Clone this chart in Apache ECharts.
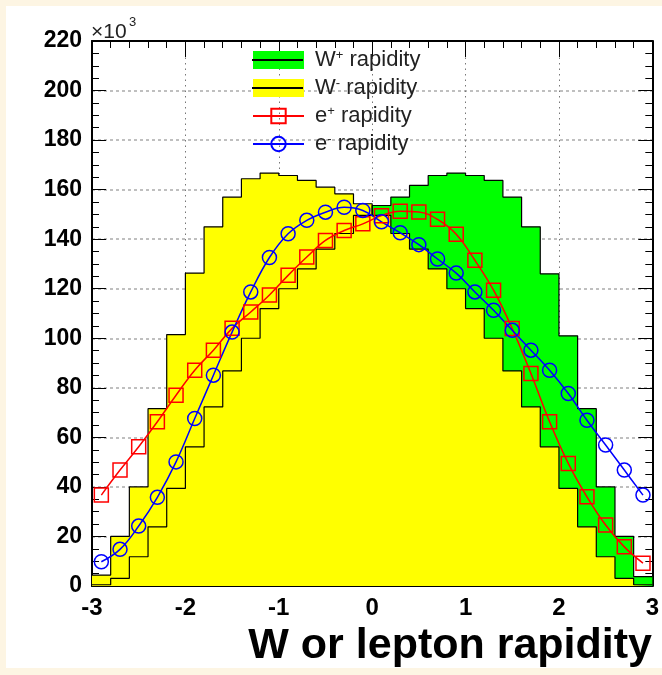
<!DOCTYPE html>
<html><head><meta charset="utf-8">
<script src="https://cdn.jsdelivr.net/npm/echarts@6/dist/echarts.min.js"></script>
<style>
html,body{margin:0;padding:0;background:#fdf5e3;}
#pad{position:absolute;left:6px;top:6px;width:656px;height:662px;background:#ffffff;}
#chart{position:absolute;left:0;top:0;width:662px;height:675px;}
</style></head><body><div id="pad"></div><div id="chart"></div>
<script>
// bin edges (31) and centres (30) of the rapidity histograms
const binEdges = [-3,-2.8,-2.6,-2.4,-2.2,-2,-1.8,-1.6,-1.4,-1.2,-1,-0.8,-0.6,-0.4,-0.2,0,0.2,0.4,0.6,0.8,1,1.2,1.4,1.6,1.8,2,2.2,2.4,2.6,2.8,3];
const binCenters = [-2.9,-2.7,-2.5,-2.3,-2.1,-1.9,-1.7,-1.5,-1.3,-1.1,-0.9,-0.7,-0.5,-0.3,-0.1,0.1,0.3,0.5,0.7,0.9,1.1,1.3,1.5,1.7,1.9,2.1,2.3,2.5,2.7,2.9];
// values in units of 10^3
const wPlus  = [0.5,3.1,11.8,23.9,39.4,56.2,72.3,86.8,100,112,120,128,136,142.3,149.6,153.6,157,161.7,165.7,166.7,165.7,163.7,157,145,126,101,71.6,40,20,3.8];
const wMinus = [4.4,20,40,71.6,101.5,126.3,145,157,164.4,166.7,165.7,163.7,161,158.3,154.3,149.6,142.3,136,128,120,112,100,86.8,72.3,56.2,39.4,23.9,11.8,3.1,0.5];
const ePlus  = [36.7,46.8,56.2,66.3,77,87.1,95.2,104,110.6,117.5,125.4,132.8,139.5,143.5,146.2,149.5,151.3,151,148,142,131.5,119.4,103.9,85.8,66.3,49.5,36,24.6,15.8,9.2];
const eMinus = [9.8,14.8,24.2,35.8,50.1,67.6,85.1,102.5,118.7,132.6,142.2,147.6,150.9,152.9,151.6,147,142.6,137.8,132,126.3,118.7,111.3,103.2,95.2,87.1,77.7,66.9,56.9,46.8,36.7];
const seriesNames = ['W+ rapidity','W- rapidity','e+ rapidity','e- rapidity'];

function stepData(vals){
  const d = vals.map((v,i)=>[binEdges[i], v]);
  d.push([binEdges[vals.length], vals[vals.length-1]]);
  return d;
}
function pointData(vals){ return vals.map((v,i)=>[binCenters[i], v]); }

const FONT = 'Liberation Sans, Arial, Helvetica, sans-serif';
const chart = echarts.init(document.getElementById('chart'), null, {renderer:'canvas'});

const baseAxisLine = {show:true, onZero:false, lineStyle:{color:'#000', width:2}};

const option = {
  animation:false,
  backgroundColor:'transparent',
  textStyle:{fontFamily:FONT},
  grid:{left:92, right:8, top:41, bottom:89, containLabel:false},
  title:{
    text:'W or lepton rapidity', right:10, top:625, padding:0,
    textStyle:{fontFamily:FONT, fontSize:43, fontWeight:'bold', color:'#000'}
  },
  legend:{
    orient:'vertical', left:252, top:49, padding:0, itemWidth:51, itemHeight:18, itemGap:6,
    selectedMode:false,
    data:[
      {name:seriesNames[0], icon:'rect', itemStyle:{color:'#00ff00', borderWidth:0}},
      {name:seriesNames[1], icon:'rect', itemStyle:{color:'#ffff00', borderWidth:0}},
      {name:seriesNames[2]},
      {name:seriesNames[3]}
    ],
    formatter:function(name){
      const p = name.split(' ');
      return '{g| }{b|' + p[0].charAt(0) + '}{s|' + p[0].charAt(1) + '}{b| ' + p[1] + '}';
    },
    textStyle:{
      fontFamily:FONT, fontSize:22, color:'#222', lineHeight:22,
      rich:{
        g:{fontSize:10, width:6, lineHeight:22},
        b:{fontFamily:FONT, fontSize:22, color:'#222', lineHeight:22},
        s:{fontFamily:FONT, fontSize:13, color:'#222', lineHeight:22, verticalAlign:'top'}
      }
    }
  },
  xAxis:[
    {type:'value', min:-3, max:3, interval:1, position:'bottom',
     axisLine:baseAxisLine,
     axisTick:{show:true, inside:true, length:16, lineStyle:{color:'#000', width:1}},
     minorTick:{show:true, splitNumber:5, length:7, lineStyle:{color:'#000', width:1}},
     splitLine:{show:true, lineStyle:{color:'#777', width:1, type:[1.5,4]}},
     axisLabel:{show:true, margin:10, fontFamily:FONT, fontSize:24, fontWeight:'bold', color:'#000'}
    },
    {type:'value', min:-3, max:3, interval:1, position:'top',
     axisLine:baseAxisLine,
     axisTick:{show:true, inside:true, length:16, lineStyle:{color:'#000', width:1}},
     minorTick:{show:true, splitNumber:5, length:7, lineStyle:{color:'#000', width:1}},
     splitLine:{show:false}, axisLabel:{show:false}
    }
  ],
  yAxis:[
    {type:'value', min:0, max:220, interval:20, position:'left',
     axisLine:baseAxisLine,
     axisTick:{show:true, inside:true, length:14, lineStyle:{color:'#000', width:1}},
     minorTick:{show:true, splitNumber:4, length:7, lineStyle:{color:'#000', width:1}},
     splitLine:{show:true, lineStyle:{color:'#aaa', width:1.5, type:[3,3]}},
     axisLabel:{show:true, margin:10, fontFamily:FONT, fontSize:23, fontWeight:'bold', color:'#000'}
    },
    {type:'value', min:0, max:220, interval:20, position:'right',
     axisLine:baseAxisLine,
     axisTick:{show:true, inside:true, length:14, lineStyle:{color:'#000', width:1}},
     minorTick:{show:true, splitNumber:4, length:7, lineStyle:{color:'#000', width:1}},
     splitLine:{show:false}, axisLabel:{show:false}
    }
  ],
  graphic:[
    {type:'text', left:91, top:22, style:{text:'×10', font:'21px ' + FONT, fill:'#222'}},
    {type:'text', left:129, top:16, style:{text:'3', font:'13px ' + FONT, fill:'#222'}},
    {type:'line', shape:{x1:252, y1:60, x2:303, y2:60}, style:{stroke:'#000', lineWidth:2}, z:100},
    {type:'line', shape:{x1:252, y1:88, x2:303, y2:88}, style:{stroke:'#000', lineWidth:2}, z:100}
  ],
  series:[
    {name:seriesNames[0], type:'line', step:'end', data:stepData(wPlus), xAxisIndex:0, yAxisIndex:0,
     symbol:'none', silent:true, itemStyle:{color:'#00ff00'},
     lineStyle:{color:'#000', width:1.2}, areaStyle:{color:'#00ff00', opacity:1}},
    {name:seriesNames[1], type:'line', step:'end', data:stepData(wMinus), xAxisIndex:0, yAxisIndex:0,
     symbol:'none', silent:true, itemStyle:{color:'#ffff00'},
     lineStyle:{color:'#000', width:1.2}, areaStyle:{color:'#ffff00', opacity:1}},
    {name:seriesNames[2], type:'line', smooth:0.4, data:pointData(ePlus), xAxisIndex:0, yAxisIndex:0,
     symbol:'rect', symbolSize:14, showSymbol:true, silent:true,
     itemStyle:{color:'rgba(0,0,0,0)', borderColor:'#ff0000', borderWidth:1.5},
     lineStyle:{color:'#ff0000', width:1.5}},
    {name:seriesNames[3], type:'line', smooth:0.4, data:pointData(eMinus), xAxisIndex:0, yAxisIndex:0,
     symbol:'circle', symbolSize:14, showSymbol:true, silent:true,
     itemStyle:{color:'rgba(0,0,0,0)', borderColor:'#0000ff', borderWidth:1.5},
     lineStyle:{color:'#0000ff', width:1.5}}
  ]
};
chart.setOption(option);
</script></body></html>
